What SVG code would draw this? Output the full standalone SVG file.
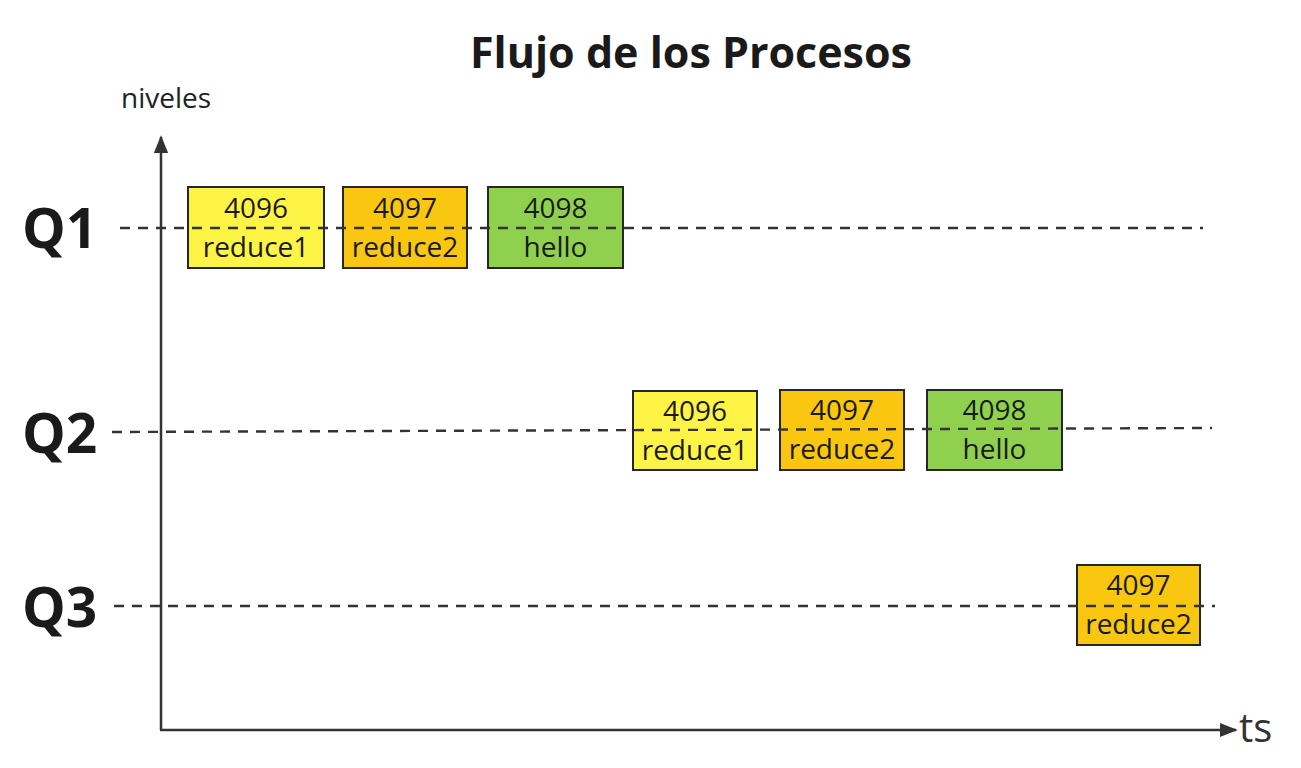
<svg xmlns="http://www.w3.org/2000/svg" width="1301" height="768" viewBox="0 0 1301 768">
<style>
text{font-family:"Open Sans","Noto Sans","Liberation Sans",sans-serif;fill:#1a1a1a}
.title{font-size:43px;font-weight:700;text-anchor:middle}
.q{font-size:55px;font-weight:700}
.lbl{font-size:28px;text-anchor:middle}
.box{stroke:#262626;stroke-width:2}
.y{fill:#fef445}.o{fill:#fac710}.g{fill:#8fd14f}
.dash{stroke:#333;stroke-width:2.4;stroke-dasharray:10 8;fill:none}
.axis{stroke:#333;stroke-width:2.5;fill:none}
</style>
<defs>
<marker id="ah2" viewBox="0 0 10 10" refX="9" refY="5" markerWidth="18" markerHeight="18" markerUnits="userSpaceOnUse" orient="auto">
<path d="M0,1 L10,5 L0,9 z" fill="#333"/>
</marker>
</defs>
<rect width="1301" height="768" fill="#fff"/>
<text class="title" x="691" y="68">Flujo de los Procesos</text>
<g id="labels">
<text class="q" x="22" y="248">Q1</text>
<text class="q" x="22" y="453">Q2</text>
<text class="q" x="22" y="627">Q3</text>
<text x="121" y="108" style="font-size:28px;fill:#222">niveles</text>
<text x="1239" y="742" style="font-size:40px;fill:#333">ts</text>
</g>
<g id="q1-4096"><rect class="box y" x="188" y="187" width="136" height="81"/><text class="lbl" x="256" y="218">4096</text><text class="lbl" x="256" y="257">reduce1</text></g>
<g id="q1-4097"><rect class="box o" x="343" y="187" width="124" height="81"/><text class="lbl" x="405" y="218">4097</text><text class="lbl" x="405" y="257">reduce2</text></g>
<g id="q1-4098"><rect class="box g" x="488" y="187" width="135" height="81"/><text class="lbl" x="555.5" y="218">4098</text><text class="lbl" x="555.5" y="257">hello</text></g>
<g id="q2-4096"><rect class="box y" x="633" y="391" width="124" height="79"/><text class="lbl" x="695" y="421">4096</text><text class="lbl" x="695" y="460">reduce1</text></g>
<g id="q2-4097"><rect class="box o" x="780" y="390" width="124" height="80"/><text class="lbl" x="842" y="420">4097</text><text class="lbl" x="842" y="459">reduce2</text></g>
<g id="q2-4098"><rect class="box g" x="927" y="390" width="135" height="80"/><text class="lbl" x="994.5" y="420">4098</text><text class="lbl" x="994.5" y="459">hello</text></g>
<g id="q3-4097"><rect class="box o" x="1077" y="565" width="123" height="80"/><text class="lbl" x="1138.5" y="595">4097</text><text class="lbl" x="1138.5" y="634">reduce2</text></g>
<g id="connectors">
<line class="dash" x1="120" y1="228" x2="1203" y2="228"/>
<line class="dash" x1="112" y1="432" x2="1212" y2="428"/>
<line class="dash" x1="114" y1="606" x2="1215" y2="606"/>
<line class="axis" x1="161" y1="730" x2="161" y2="137" marker-end="url(#ah2)"/>
<line class="axis" x1="160" y1="730" x2="1236" y2="730" marker-end="url(#ah2)"/>
</g>
</svg>
